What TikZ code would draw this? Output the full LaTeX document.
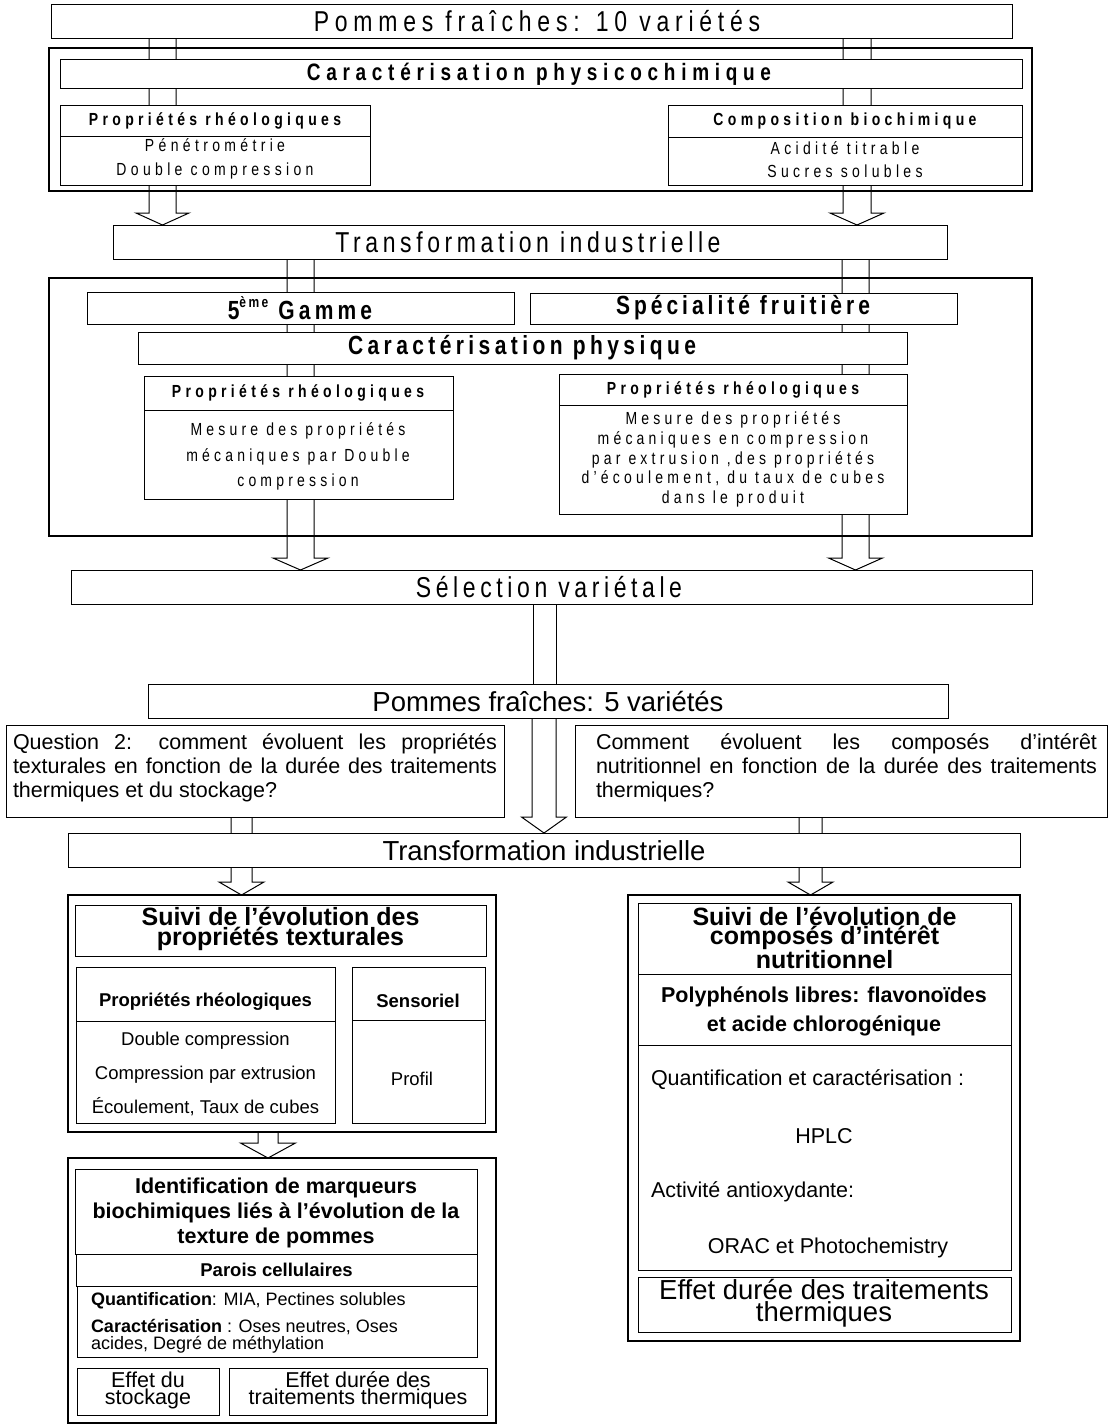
\documentclass[tikz,border=0pt]{standalone}
\usepackage{fontspec}
\setmainfont{Liberation Sans}
\usetikzlibrary{calc}
\pgfdeclarelayer{frames}
\pgfdeclarelayer{arrows}
\pgfsetlayers{frames,arrows,main}
\tikzset{
 box/.style={draw, fill=white, line width=1pt, inner sep=0pt, outer sep=0pt},
 frame/.style={draw, fill=white, line width=2.6pt, inner sep=0pt, outer sep=0pt},
 arr/.style={draw, line width=1pt, line join=miter},
 divider/.style={line width=1pt},
 t/.style={inner sep=0pt, outer sep=0pt, align=center},
 sp/.style n args={3}{t, font={\fontsize{#1}{#2}\selectfont\addfontfeatures{LetterSpace=#3}}},
 spb/.style n args={3}{t, font={\fontsize{#1}{#2}\selectfont\bfseries\addfontfeatures{LetterSpace=#3}}},
 rg/.style 2 args={t, font={\fontsize{#1}{#2}\selectfont}},
 bd/.style 2 args={t, font={\fontsize{#1}{#2}\selectfont\bfseries}},
 just/.style 2 args={inner sep=0pt, outer sep=0pt, text width=#2pt, align=justify,
   font={\fontsize{#1}{24}\selectfont\tolerance=10000\hyphenpenalty=10000}},
}
% box: style, name, x1, y1, x2, y2
\newcommand\bx[6]{\node[#1, anchor=north west, minimum width={#5pt-#3pt}, minimum height={#6pt-#4pt}] (#2) at (#3,#4) {};}
% hollow arrow: x centre, from, to, shaft half width, head half width, head length
\newcommand\harrow[6]{%
 \draw[arr] (#1-#4,0 |- #2.south) -- ($(#1-#4,0 |- #3.north)+(0,-#6)$) -- ($(#1-#5,0 |- #3.north)+(0,-#6)$)
   -- (#1,0 |- #3.north) -- ($(#1+#5,0 |- #3.north)+(0,-#6)$) -- ($(#1+#4,0 |- #3.north)+(0,-#6)$)
   -- (#1+#4,0 |- #2.south);}
\newcommand\divline[2]{\draw[divider] (#1.west |- 0,#2) -- (#1.east |- 0,#2);}
% vertically stretched text (top part of the figure): name, style, x, y, text
\newcommand\stext[5]{\begin{scope}[shift={(#3,#4)}, yscale=1.25]\node[#2, transform shape] (#1) at (0,0) {#5};\end{scope}}

\begin{document}
\begin{tikzpicture}[x=1pt,y=-1pt]
\useasboundingbox (0,0) rectangle (1109,1425);
\begin{pgfonlayer}{frames}
\fill[white] (0,0) rectangle (1109,1425);
\bx{frame}{fr1}{49}{48}{1032}{191}
\bx{frame}{fr2}{49}{278}{1032}{536}
\bx{frame}{fr3}{68}{895}{496}{1132}
\bx{frame}{fr4}{68}{1158}{496}{1423}
\bx{frame}{fr5}{628}{895}{1020}{1341}
\end{pgfonlayer}

% ---------- boxes ----------
\bx{box}{p10}{51}{4}{1012}{38}
\bx{box}{cpc}{60}{59}{1022}{88}
\bx{box}{prl}{60}{105}{370}{185}
\bx{box}{cbc}{668}{105}{1022}{185}
\bx{box}{tr1}{113}{225}{947}{259}
\bx{box}{g5}{87}{292}{514}{324}
\bx{box}{spf}{530}{293}{957}{324}
\bx{box}{cph}{138}{332}{907}{364}
\bx{box}{prl2}{144}{376}{453}{499}
\bx{box}{prr2}{559}{374}{907}{514}
\bx{box}{sel}{71}{570}{1032}{604}
\bx{box}{p5}{148}{684}{948}{718}
\bx{box}{q1}{6}{725}{504}{817}
\bx{box}{q2}{575}{725}{1107.5}{817}
\bx{box}{tr2}{68}{833}{1020}{867}
\bx{box}{st}{75}{905}{486}{956}
\bx{box}{rh3}{76}{967}{335}{1123}
\bx{box}{sen}{352}{967}{485}{1123}
\bx{box}{idm}{75}{1169}{477}{1254}
\bx{box}{par}{76}{1254}{477}{1286}
\bx{box}{qc}{77}{1286}{477}{1357}
\bx{box}{efs}{77}{1368}{219}{1415}
\bx{box}{eft}{229}{1368}{487}{1415}
\bx{box}{sn}{638}{903}{1011}{974}
\bx{box}{poly}{638}{974}{1011}{1045}
\bx{box}{cnt}{638}{1045}{1011}{1270}
\bx{box}{efd}{638}{1277}{1011}{1332}

\divline{prl}{136}
\divline{cbc}{137}
\divline{prl2}{410}
\divline{prr2}{405}
\divline{rh3}{1021}
\divline{sen}{1020}

% ---------- arrows ----------
\begin{pgfonlayer}{arrows}
\harrow{162.5}{p10}{tr1}{13.5}{26.5}{12}
\harrow{857}{p10}{tr1}{14}{27}{12}
\harrow{300.5}{tr1}{sel}{13.5}{27.5}{12}
\harrow{855.5}{tr1}{sel}{13.5}{27}{12}
\harrow{544}{p5}{tr2}{12}{22.5}{16}
\harrow{241.5}{q1}{fr3}{10.5}{22.5}{13}
\harrow{810.5}{q2}{fr5}{11.5}{22.5}{13}
\harrow{268}{fr3}{fr4}{10}{27.5}{15}
\end{pgfonlayer}
\draw[arr] (533,0 |- sel.south) rectangle (556,0 |- p5.north);

% ---------- texts: top part (vertically stretched) ----------
\stext{tp10}{sp={23}{27}{25}}{537}{21}{Pommes fraîches: 10 variétés}
\stext{tcpc}{spb={19}{22}{30}}{539}{74}{Caractérisation physicochimique}
\stext{tprl}{spb={14}{16}{31}}{215}{121}{Propriétés rhéologiques}
\stext{tprlc}{sp={14}{19.2}{31}}{215}{159}{Pénétrométrie\\Double compression}
\stext{tcbc}{spb={14}{16}{31}}{845}{121}{Composition biochimique}
\stext{tcbcc}{sp={14}{18.4}{31}}{845}{159.5}{Acidité titrable\\Sucres solubles}
\stext{ttr1}{sp={23}{27}{20}}{528}{242}{Transformation industrielle}
\stext{tg5}{spb={21}{24}{20}}{300}{308}{5\raisebox{0.45em}{\fontsize{12}{12}\selectfont ème} Gamme}
\stext{tspf}{spb={21}{24}{19}}{743}{308}{Spécialité fruitière}
\stext{tcph}{spb={21}{24}{21}}{522}{348}{Caractérisation physique}
\stext{tprl2}{spb={14}{16}{31}}{298}{393}{Propriétés rhéologiques}
\stext{tprl2c}{sp={14}{20.4}{30}}{298}{456.5}{Mesure des propriétés\\mécaniques par Double\\compression}
\stext{tprr2}{spb={14}{16}{31}}{733}{390}{Propriétés rhéologiques}
\stext{tprr2c}{sp={14}{15.76}{30}}{733}{459.5}{Mesure des propriétés\\mécaniques en compression\\par extrusion ,des propriétés\\d’écoulement, du taux de cubes\\dans le produit}
\stext{tsel}{sp={23}{27}{20}}{549}{587}{Sélection variétale}
\node[rg={27.5}{30}] (tp5) at (548,701) {Pommes fraîches: 5 variétés};

% ---------- questions ----------
\node[just={21.5}{484}] (tq1) at (255,768) {Question 2: comment évoluent les propriétés\linebreak texturales en fonction de la durée des traitements\linebreak thermiques et du stockage?};
\node[just={21.5}{501}] (tq2) at (846.5,768) {Comment évoluent les composés d’intérêt\linebreak nutritionnel en fonction de la durée des traitements\linebreak thermiques?};
\node[rg={27.5}{30}] (ttr2) at (544,851) {Transformation industrielle};

% ---------- left lower frames ----------
\node[bd={25}{20.5}] (tst) at (280.5,929) {Suivi de l’évolution des\\propriétés texturales};
\node[bd={18.5}{20}] (trh3) at (205.5,1002) {Propriétés rhéologiques};
\node[rg={18.5}{34}] (trh3c) at (205.5,1074) {Double compression\\Compression par extrusion\\Écoulement, Taux de cubes};
\node[bd={18.5}{20}] (tsen) at (418,1001) {Sensoriel};
\node[rg={18.5}{20}] (tprof) at (412,1079) {Profil};
\node[bd={21.5}{25}] (tidm) at (276,1213) {Identification de marqueurs\\biochimiques liés à l’évolution de la\\texture de pommes};
\node[bd={18.5}{20}] (tpar) at (276.5,1270) {Parois cellulaires};
\node[rg={18}{17}, anchor=west, align=left] (tqa) at (91,1301) {\textbf{Quantification}: MIA, Pectines solubles};
\node[rg={18}{17}, anchor=west, align=left] (tqb) at (91,1336.5) {\textbf{Caractérisation} : Oses neutres, Oses\\acides, Degré de méthylation};
\node[rg={21.5}{17}] (tefs) at (148,1390) {Effet du\\stockage};
\node[rg={21.5}{17}] (teft) at (358,1390) {Effet durée des\\traitements thermiques};

% ---------- right lower frame ----------
\node[bd={25}{19.5}] (tsn) at (824.5,938) {Suivi de l’évolution de\\composés d’intérêt\\nutritionnel};
\node[bd={21.5}{29}] (tpoly) at (824,1011.5) {Polyphénols libres: flavonoïdes\\et acide chlorogénique};
\node[rg={21.5}{24}, anchor=west] (tqc) at (651,1080) {Quantification et caractérisation :};
\node[rg={21.5}{24}] (thplc) at (824,1136) {HPLC};
\node[rg={21.5}{24}, anchor=west] (tact) at (651,1192) {Activité antioxydante:};
\node[rg={21.5}{24}] (torac) at (828,1248) {ORAC et Photochemistry};
\node[rg={27.5}{22}] (tefd) at (824,1303) {Effet durée des traitements\\thermiques};
\end{tikzpicture}
\end{document}
